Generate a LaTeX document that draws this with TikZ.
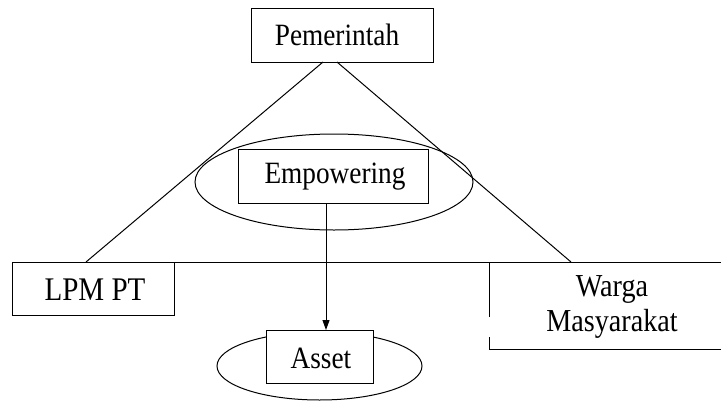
\documentclass[tikz,border=0pt]{standalone}
\usepackage{fontspec}
\setmainfont[FakeStretch=0.88]{Liberation Serif}
\usetikzlibrary{arrows.meta,shapes.geometric,calc}
\begin{document}
\begin{tikzpicture}[x=1pt,y=-1pt,
  line width=1pt,
  box/.style={draw, rectangle, inner sep=0pt, fill=white},
  oval/.style={draw, ellipse, inner sep=0pt},
  lbl/.style={inner sep=0pt, font=\fontsize{31}{37}\selectfont},
  conn/.style={draw, line width=1pt},
  arr/.style={-{Triangle[length=10pt,width=7pt]}}]
\useasboundingbox (0,0) rectangle (721,402);
% Pemerintah
\node[box, minimum width=182pt, minimum height=54pt] (pem) at (342,35) {};
\node[lbl] (pemt) at (337,35) {Pemerintah};
% Empowering
\node[oval, minimum width=278pt, minimum height=96pt] (empo) at (334,182) {};
\node[box, minimum width=190pt, minimum height=54pt] (empb) at (333,176) {};
\node[lbl] (empt) at (335,177) {Empowering};
% LPM PT
\node[box, minimum width=162pt, minimum height=53pt] (lpm) at (93,288.5) {};
\node[lbl, font=\fontsize{33}{37}\selectfont] (lpmt) at (95,290) {LPM PT};
% Asset
\node[oval, minimum width=205pt, minimum height=68pt] (asso) at (319.5,366) {};
\node[box, minimum width=107pt, minimum height=53pt] (assb) at (319.5,356.5) {};
\node[lbl] (asst) at (321,358) {Asset};
% Warga Masyarakat
\node[lbl, align=center, font=\fontsize{32}{35}\selectfont] (warga) at (612,307) {Warga\\Masyarakat};
% coordinates
\coordinate (hl) at (12,262);
\coordinate (hr) at (721,262);
\coordinate (pl) at (323,62);
\coordinate (pr) at (337,62);
\coordinate (ll) at (86,262);
\coordinate (rr) at (571,262);
\coordinate (wtop) at (489,262);
\coordinate (wg1) at (489,317);
\coordinate (wg2) at (489,337);
\coordinate (wbot) at (489,349);
\coordinate (wbr) at (721,349);
\coordinate (a1) at (326,203);
\coordinate (a2) at (326,330);
% connectors
\draw[conn] (hl) -- (hr);
\draw[conn] (pl) -- (ll);
\draw[conn] (pr) -- (rr);
\draw[conn] (wtop) -- (wg1);
\draw[conn] (wg2) -- (wbot) -- (wbr);
\draw[conn, arr] (a1) -- (a2);
\end{tikzpicture}
\end{document}
